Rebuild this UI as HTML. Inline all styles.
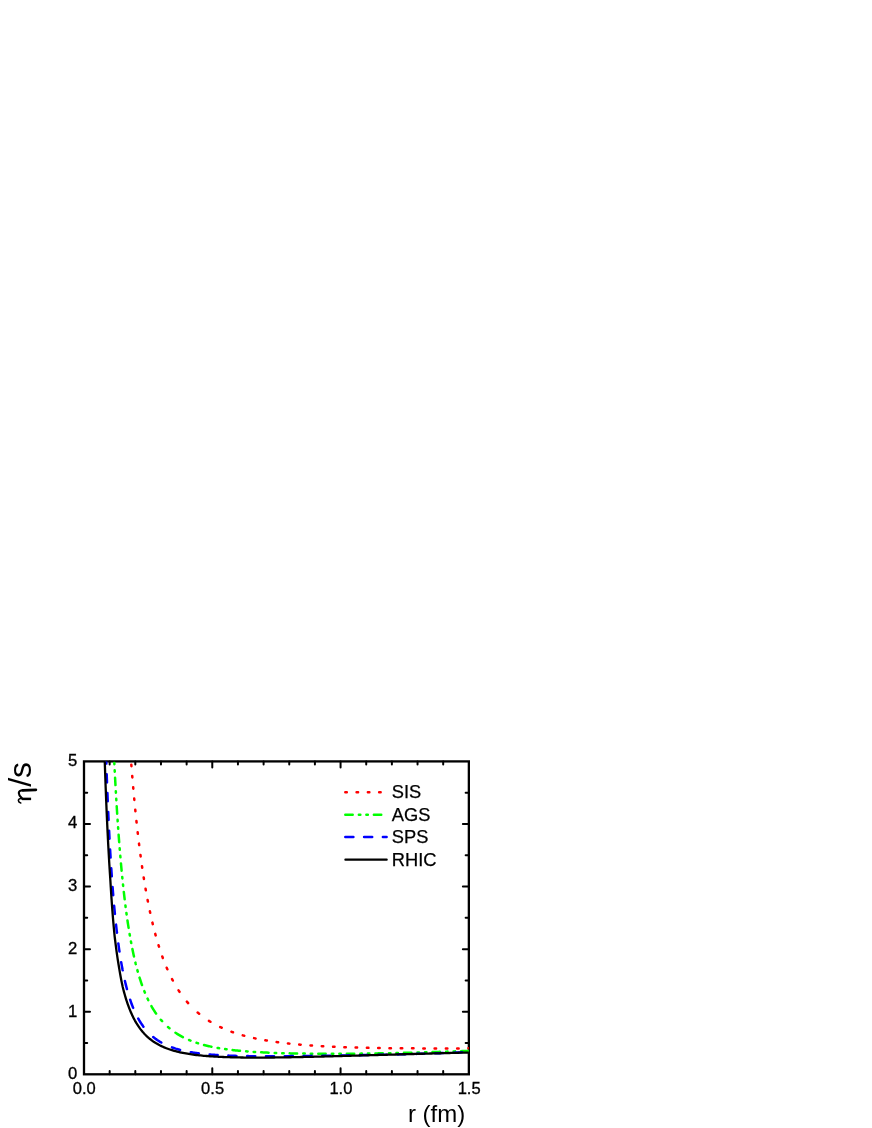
<!DOCTYPE html>
<html><head><meta charset="utf-8"><title>eta/s</title>
<style>
html,body{margin:0;padding:0;background:#fff;}
body{width:872px;height:1128px;overflow:hidden;font-family:"Liberation Sans",sans-serif;}
svg{display:block;position:absolute;left:0;top:0;will-change:transform;}
text{font-family:"Liberation Sans",sans-serif;fill:#000;}
</style></head><body>
<svg width="872" height="1128" viewBox="0 0 872 1128">
<rect x="0" y="0" width="872" height="1128" fill="#fff"/>
<defs><clipPath id="cp"><rect x="84.00" y="761.40" width="384.85" height="312.90"/></clipPath></defs>

<path d="M109.66,1074.3 v-3.2 M109.66,761.4 v3.2 M135.31,1074.3 v-3.2 M135.31,761.4 v3.2 M160.97,1074.3 v-3.2 M160.97,761.4 v3.2 M186.63,1074.3 v-3.2 M186.63,761.4 v3.2 M212.28,1074.3 v-6.0 M212.28,761.4 v6.0 M237.94,1074.3 v-3.2 M237.94,761.4 v3.2 M263.60,1074.3 v-3.2 M263.60,761.4 v3.2 M289.25,1074.3 v-3.2 M289.25,761.4 v3.2 M314.91,1074.3 v-3.2 M314.91,761.4 v3.2 M340.57,1074.3 v-6.0 M340.57,761.4 v6.0 M366.22,1074.3 v-3.2 M366.22,761.4 v3.2 M391.88,1074.3 v-3.2 M391.88,761.4 v3.2 M417.54,1074.3 v-3.2 M417.54,761.4 v3.2 M443.19,1074.3 v-3.2 M443.19,761.4 v3.2 M84.0,1043.01 h3.2 M468.85,1043.01 h-3.2 M84.0,1011.72 h6.0 M468.85,1011.72 h-6.0 M84.0,980.43 h3.2 M468.85,980.43 h-3.2 M84.0,949.14 h6.0 M468.85,949.14 h-6.0 M84.0,917.85 h3.2 M468.85,917.85 h-3.2 M84.0,886.56 h6.0 M468.85,886.56 h-6.0 M84.0,855.27 h3.2 M468.85,855.27 h-3.2 M84.0,823.98 h6.0 M468.85,823.98 h-6.0 M84.0,792.69 h3.2 M468.85,792.69 h-3.2" stroke="#000" stroke-width="2.0" stroke-linecap="round" fill="none"/>
<rect x="84.0" y="761.4" width="384.85" height="312.90" fill="none" stroke="#000" stroke-width="2.3"/>
<g clip-path="url(#cp)" fill="none" stroke-linejoin="round">
<path d="M131.32,764.65 L131.40,765.64 L131.44,766.15 M132.23,775.93 L132.31,776.90 L132.35,777.43 M133.18,787.22 L133.27,788.21 L133.31,788.72 M134.20,798.50 L134.29,799.46 L134.34,800.00 M135.28,809.78 L135.38,810.76 L135.43,811.28 M136.44,821.06 L136.54,822.04 L136.60,822.56 M137.68,832.35 L137.79,833.32 L137.85,833.85 M139.01,843.63 L139.13,844.59 L139.19,845.13 M140.45,854.91 L140.58,855.90 L140.65,856.41 M142.01,866.20 L142.14,867.14 L142.22,867.70 M143.70,877.48 L143.86,878.46 L143.94,878.98 M145.56,888.76 L145.72,889.70 L145.82,890.26 M147.61,900.05 L147.79,901.01 L147.89,901.55 M149.87,911.33 L150.08,912.28 L150.19,912.83 M152.41,922.61 L152.63,923.54 L152.77,924.11 M155.26,933.89 L155.52,934.82 L155.67,935.39 M158.52,945.18 L158.81,946.10 L158.99,946.68 M162.29,956.46 L162.62,957.37 L162.83,957.96 M166.71,967.74 L167.10,968.65 L167.36,969.24 M172.01,979.03 L172.45,979.89 L172.79,980.53 M178.53,990.31 L179.06,991.13 L179.52,991.81 M186.86,1001.59 L187.50,1002.35 L188.15,1003.09 M197.64,1012.51 L198.39,1013.14 L199.14,1013.77 M208.93,1020.85 L209.75,1021.37 L210.43,1021.78 M220.21,1027.05 L221.11,1027.47 L221.71,1027.75 M231.49,1031.74 L232.41,1032.06 L232.99,1032.27 M242.77,1035.34 L243.71,1035.60 L244.27,1035.75 M254.06,1038.14 L255.03,1038.35 L255.56,1038.46 M265.34,1040.34 L266.28,1040.50 L266.84,1040.59 M276.62,1042.08 L277.60,1042.21 L278.12,1042.28 M287.91,1043.46 L288.87,1043.56 L289.41,1043.62 M299.19,1044.56 L300.16,1044.65 L300.69,1044.69 M310.47,1045.45 L311.43,1045.51 L311.97,1045.55 M321.76,1046.16 L322.71,1046.21 L323.26,1046.24 M333.04,1046.72 L334.00,1046.76 L334.54,1046.79 M344.32,1047.17 L345.29,1047.20 L345.82,1047.22 M355.60,1047.53 L356.58,1047.55 L357.10,1047.57 M366.89,1047.80 L367.88,1047.82 L368.39,1047.84 M378.17,1048.02 L379.13,1048.03 L379.67,1048.04 M389.45,1048.18 L390.43,1048.19 L390.95,1048.19 M400.74,1048.29 L401.73,1048.30 L402.24,1048.30 M412.02,1048.37 L412.97,1048.37 L413.52,1048.37 M423.30,1048.41 L424.27,1048.41 L424.80,1048.41 M434.59,1048.43 L435.57,1048.43 L436.09,1048.43 M445.87,1048.42 L446.82,1048.41 L447.37,1048.41 M457.15,1048.39 L458.12,1048.38 L458.65,1048.38 M468.43,1048.34 L468.85,1048.33" stroke="#ff0000" stroke-width="2.5" stroke-linecap="round"/>
<path d="M114.30,762.70 L114.35,763.70 L114.38,764.20 M114.68,770.20 L114.73,771.19 L114.76,771.70 M115.07,777.71 L115.12,778.68 L115.17,779.67 L115.23,780.67 L115.28,781.67 L115.34,782.67 L115.39,783.67 L115.45,784.67 L115.47,785.11 M115.81,791.26 L115.87,792.25 L115.90,792.76 M116.25,798.76 L116.31,799.74 L116.34,800.26 M116.71,806.26 L116.77,807.22 L116.83,808.22 L116.89,809.22 L116.95,810.22 L117.02,811.22 L117.08,812.21 L117.15,813.21 L117.17,813.66 M117.58,819.81 L117.65,820.79 L117.68,821.31 M118.09,827.31 L118.16,828.28 L118.20,828.81 M118.63,834.82 L118.71,835.80 L118.78,836.80 L118.86,837.80 L118.93,838.80 L119.01,839.79 L119.08,840.79 L119.16,841.79 L119.19,842.22 M119.68,848.37 L119.76,849.36 L119.80,849.87 M120.30,855.87 L120.38,856.83 L120.43,857.37 M120.95,863.38 L121.04,864.35 L121.13,865.35 L121.22,866.35 L121.31,867.34 L121.41,868.34 L121.50,869.33 L121.59,870.33 L121.63,870.78 M122.23,876.93 L122.33,877.89 L122.38,878.43 M123.00,884.43 L123.10,885.40 L123.16,885.93 M123.81,891.93 L123.92,892.90 L124.04,893.90 L124.15,894.89 L124.27,895.88 L124.38,896.88 L124.50,897.87 L124.62,898.86 L124.67,899.33 M125.43,905.48 L125.55,906.45 L125.62,906.98 M126.41,912.98 L126.54,913.94 L126.62,914.48 M127.47,920.49 L127.62,921.46 L127.76,922.45 L127.91,923.44 L128.06,924.42 L128.21,925.41 L128.37,926.40 L128.52,927.39 L128.60,927.89 M129.61,934.04 L129.77,934.98 L129.87,935.54 M130.94,941.54 L131.12,942.51 L131.22,943.04 M132.40,949.05 L132.59,950.02 L132.80,950.99 L133.00,951.97 L133.21,952.95 L133.42,953.93 L133.63,954.91 L133.85,955.88 L133.98,956.45 M135.42,962.60 L135.65,963.57 L135.79,964.10 M137.36,970.10 L137.62,971.06 L137.77,971.60 M139.54,977.61 L139.84,978.54 L140.14,979.49 L140.45,980.44 L140.76,981.39 L141.07,982.34 L141.40,983.29 L141.72,984.23 L141.99,985.01 M144.31,991.16 L144.66,992.04 L144.92,992.66 M147.56,998.66 L147.98,999.54 L148.27,1000.16 M151.42,1006.16 L151.91,1007.01 L152.41,1007.87 L152.93,1008.73 L153.45,1009.58 L153.98,1010.43 L154.52,1011.27 L155.07,1012.10 L155.63,1012.93 L156.07,1013.56 M160.80,1019.71 L161.43,1020.44 L162.10,1021.19 L162.12,1021.21 M167.97,1027.02 L168.70,1027.65 L169.47,1028.30 L169.47,1028.30 M175.48,1032.78 L176.31,1033.32 L177.16,1033.86 L178.01,1034.39 L178.86,1034.90 L179.73,1035.40 L180.60,1035.90 L181.47,1036.38 L182.36,1036.85 L182.88,1037.12 M189.03,1039.98 L189.93,1040.35 L190.53,1040.59 M196.53,1042.77 L197.45,1043.07 L198.03,1043.26 M204.04,1044.98 L205.00,1045.23 L205.97,1045.48 L206.94,1045.71 L207.91,1045.94 L208.89,1046.17 L209.86,1046.39 L210.84,1046.60 L211.44,1046.73 M217.59,1047.91 L218.55,1048.08 L219.09,1048.17 M225.09,1049.10 L226.06,1049.24 L226.59,1049.31 M232.59,1050.06 L233.55,1050.17 L234.54,1050.28 L235.54,1050.39 L236.53,1050.49 L237.53,1050.59 L238.52,1050.69 L239.52,1050.79 L239.99,1050.83 M246.14,1051.36 L247.14,1051.44 L247.64,1051.48 M253.64,1051.89 L254.62,1051.95 L255.14,1051.98 M261.15,1052.32 L262.11,1052.37 L263.11,1052.41 L264.11,1052.46 L265.11,1052.51 L266.11,1052.56 L267.11,1052.61 L268.10,1052.65 L268.55,1052.67 M274.70,1052.92 L275.70,1052.95 L276.20,1052.97 M282.20,1053.16 L283.20,1053.19 L283.70,1053.21 M289.71,1053.36 L290.69,1053.38 L291.69,1053.40 L292.69,1053.42 L293.69,1053.44 L294.69,1053.46 L295.69,1053.48 L296.69,1053.50 L297.11,1053.50 M303.26,1053.60 L304.24,1053.61 L304.76,1053.61 M310.76,1053.68 L311.74,1053.69 L312.26,1053.69 M318.27,1053.73 L319.24,1053.74 L320.24,1053.74 L321.24,1053.75 L322.24,1053.75 L323.24,1053.75 L324.24,1053.76 L325.24,1053.76 L325.67,1053.76 M331.82,1053.76 L332.79,1053.76 L333.32,1053.76 M339.32,1053.75 L340.29,1053.75 L340.82,1053.75 M346.82,1053.72 L347.79,1053.72 L348.79,1053.71 L349.79,1053.71 L350.79,1053.70 L351.79,1053.69 L352.79,1053.69 L353.79,1053.68 L354.22,1053.68 M360.37,1053.63 L361.34,1053.62 L361.87,1053.61 M367.87,1053.54 L368.84,1053.53 L369.37,1053.52 M375.38,1053.42 L376.34,1053.40 L377.34,1053.38 L378.34,1053.37 L379.34,1053.35 L380.34,1053.33 L381.34,1053.31 L382.34,1053.29 L382.78,1053.28 M388.93,1053.16 L389.89,1053.14 L390.43,1053.13 M396.43,1053.00 L397.39,1052.98 L397.93,1052.97 M403.94,1052.83 L404.93,1052.81 L405.93,1052.79 L406.93,1052.76 L407.93,1052.74 L408.93,1052.71 L409.93,1052.69 L410.93,1052.66 L411.34,1052.65 M417.49,1052.50 L418.48,1052.47 L418.99,1052.46 M424.99,1052.29 L425.98,1052.27 L426.49,1052.25 M432.49,1052.08 L433.48,1052.05 L434.48,1052.02 L435.48,1051.99 L436.47,1051.96 L437.47,1051.93 L438.47,1051.90 L439.47,1051.87 L439.89,1051.86 M446.04,1051.66 L447.02,1051.63 L447.54,1051.61 M453.54,1051.41 L454.52,1051.38 L455.04,1051.36 M461.05,1051.15 L462.01,1051.12 L463.01,1051.08 L464.01,1051.05 L465.01,1051.01 L466.01,1050.98 L467.01,1050.94 L468.01,1050.90 L468.45,1050.89" stroke="#00ff00" stroke-width="2.5" stroke-linecap="round"/>
<path d="M106.25,761.40 L106.28,762.35 L106.31,763.35 L106.32,763.61 M106.70,774.30 L106.73,775.29 L106.77,776.29 L106.81,777.29 L106.84,778.29 L106.88,779.29 L106.92,780.28 L106.95,781.28 L106.99,782.28 L107.00,782.40 M107.41,793.09 L107.45,794.07 L107.49,795.07 L107.53,796.07 L107.57,797.07 L107.61,798.07 L107.66,799.07 L107.70,800.07 L107.74,801.06 L107.74,801.19 M108.21,811.88 L108.25,812.85 L108.30,813.85 L108.34,814.85 L108.39,815.85 L108.43,816.85 L108.48,817.85 L108.53,818.84 L108.57,819.84 L108.58,819.98 M109.10,830.67 L109.15,831.63 L109.20,832.62 L109.25,833.62 L109.30,834.62 L109.35,835.62 L109.40,836.62 L109.45,837.62 L109.51,838.62 L109.52,838.77 M110.10,849.46 L110.16,850.44 L110.22,851.44 L110.27,852.44 L110.33,853.44 L110.39,854.44 L110.45,855.43 L110.51,856.43 L110.57,857.43 L110.58,857.56 M111.25,868.25 L111.31,869.20 L111.38,870.20 L111.44,871.20 L111.51,872.20 L111.58,873.19 L111.65,874.19 L111.71,875.19 L111.78,876.19 L111.79,876.35 M112.57,887.04 L112.65,888.00 L112.73,889.00 L112.80,889.99 L112.88,890.99 L112.96,891.99 L113.04,892.98 L113.13,893.98 L113.21,894.98 L113.22,895.14 M114.15,905.83 L114.24,906.78 L114.33,907.78 L114.42,908.77 L114.52,909.77 L114.61,910.76 L114.71,911.76 L114.80,912.75 L114.90,913.75 L114.92,913.93 M116.03,924.62 L116.14,925.58 L116.25,926.57 L116.36,927.57 L116.47,928.56 L116.59,929.55 L116.70,930.55 L116.82,931.54 L116.93,932.53 L116.96,932.72 M118.32,943.41 L118.45,944.38 L118.58,945.37 L118.72,946.36 L118.86,947.35 L119.00,948.34 L119.15,949.33 L119.29,950.32 L119.44,951.31 L119.47,951.51 M121.18,962.20 L121.35,963.15 L121.52,964.14 L121.70,965.12 L121.88,966.11 L122.06,967.09 L122.24,968.07 L122.43,969.05 L122.61,970.03 L122.67,970.30 M124.93,980.99 L125.16,981.96 L125.39,982.93 L125.63,983.90 L125.87,984.88 L126.11,985.85 L126.36,986.81 L126.61,987.78 L126.86,988.75 L126.95,989.09 M130.16,999.78 L130.48,1000.71 L130.80,1001.65 L131.14,1002.59 L131.48,1003.53 L131.83,1004.47 L132.18,1005.40 L132.54,1006.34 L132.91,1007.26 L133.16,1007.88 M138.24,1018.57 L138.73,1019.43 L139.23,1020.29 L139.74,1021.15 L140.26,1022.00 L140.80,1022.85 L141.34,1023.68 L141.90,1024.51 L142.47,1025.33 L143.05,1026.15 L143.44,1026.67 M153.20,1036.99 L153.94,1037.59 L154.73,1038.20 L155.53,1038.80 L156.34,1039.38 L157.16,1039.96 L157.99,1040.51 L158.83,1041.05 L159.68,1041.58 L160.54,1042.09 L161.30,1042.53 M171.99,1047.39 L172.90,1047.71 L173.85,1048.03 L174.80,1048.34 L175.75,1048.65 L176.71,1048.94 L177.67,1049.22 L178.63,1049.49 L179.59,1049.75 L180.09,1049.88 M190.78,1052.16 L191.72,1052.32 L192.71,1052.49 L193.69,1052.64 L194.68,1052.79 L195.67,1052.94 L196.66,1053.08 L197.65,1053.21 L198.64,1053.34 L198.88,1053.37 M209.57,1054.49 L210.53,1054.57 L211.53,1054.65 L212.52,1054.73 L213.52,1054.80 L214.52,1054.87 L215.52,1054.94 L216.51,1055.01 L217.51,1055.07 L217.67,1055.08 M228.36,1055.62 L229.35,1055.65 L230.35,1055.69 L231.35,1055.73 L232.35,1055.76 L233.34,1055.79 L234.34,1055.82 L235.34,1055.85 L236.34,1055.88 L236.46,1055.88 M247.15,1056.10 L248.14,1056.12 L249.14,1056.13 L250.14,1056.15 L251.14,1056.16 L252.14,1056.17 L253.14,1056.18 L254.14,1056.19 L255.14,1056.19 L255.25,1056.20 M265.94,1056.24 L266.89,1056.24 L267.89,1056.24 L268.89,1056.24 L269.89,1056.24 L270.89,1056.24 L271.89,1056.23 L272.89,1056.23 L273.89,1056.23 L274.04,1056.23 M284.73,1056.17 L285.69,1056.16 L286.69,1056.15 L287.69,1056.14 L288.69,1056.14 L289.69,1056.13 L290.69,1056.12 L291.69,1056.11 L292.69,1056.10 L292.83,1056.10 M303.52,1055.97 L304.49,1055.96 L305.49,1055.95 L306.49,1055.94 L307.49,1055.92 L308.49,1055.91 L309.49,1055.89 L310.49,1055.88 L311.49,1055.87 L311.62,1055.86 M322.31,1055.73 L323.29,1055.72 L324.29,1055.71 L325.29,1055.69 L326.29,1055.68 L327.29,1055.67 L328.29,1055.65 L329.29,1055.64 L330.29,1055.63 L330.41,1055.63 M341.10,1055.47 L342.08,1055.46 L343.08,1055.44 L344.08,1055.43 L345.08,1055.41 L346.08,1055.40 L347.08,1055.38 L348.08,1055.37 L349.08,1055.35 L349.20,1055.35 M359.89,1055.17 L360.88,1055.16 L361.88,1055.14 L362.88,1055.12 L363.88,1055.10 L364.88,1055.09 L365.88,1055.07 L366.88,1055.05 L367.88,1055.03 L367.99,1055.03 M378.68,1054.83 L379.68,1054.81 L380.68,1054.79 L381.68,1054.77 L382.67,1054.75 L383.67,1054.73 L384.67,1054.71 L385.67,1054.69 L386.67,1054.67 L386.78,1054.67 M397.47,1054.42 L398.42,1054.39 L399.42,1054.36 L400.42,1054.34 L401.42,1054.31 L402.42,1054.28 L403.42,1054.26 L404.42,1054.23 L405.42,1054.20 L405.57,1054.20 M416.26,1053.90 L417.21,1053.87 L418.21,1053.84 L419.21,1053.81 L420.21,1053.78 L421.21,1053.75 L422.21,1053.72 L423.21,1053.69 L424.21,1053.66 L424.36,1053.66 M435.05,1053.32 L436.00,1053.29 L437.00,1053.25 L438.00,1053.22 L439.00,1053.19 L440.00,1053.15 L441.00,1053.12 L442.00,1053.08 L443.00,1053.05 L443.15,1053.05 M453.84,1052.66 L454.79,1052.63 L455.79,1052.59 L456.79,1052.55 L457.79,1052.52 L458.79,1052.48 L459.79,1052.44 L460.79,1052.40 L461.79,1052.36 L461.94,1052.36" stroke="#0000ff" stroke-width="2.5" stroke-linecap="round"/>
<path d="M104.76,761.40 L104.81,762.90 L104.86,764.40 L104.91,765.90 L104.96,767.40 L105.01,768.90 L105.06,770.39 L105.11,771.89 L105.16,773.39 L105.22,774.89 L105.27,776.39 L105.32,777.89 L105.38,779.39 L105.43,780.89 L105.49,782.39 L105.54,783.88 L105.60,785.38 L105.65,786.88 L105.71,788.38 L105.77,789.88 L105.83,791.38 L105.88,792.88 L105.94,794.38 L106.00,795.87 L106.06,797.37 L106.12,798.87 L106.18,800.37 L106.24,801.87 L106.30,803.37 L106.36,804.87 L106.43,806.36 L106.49,807.86 L106.55,809.36 L106.62,810.86 L106.68,812.36 L106.75,813.86 L106.81,815.36 L106.88,816.85 L106.95,818.35 L107.01,819.85 L107.08,821.35 L107.15,822.85 L107.22,824.34 L107.29,825.84 L107.36,827.34 L107.43,828.84 L107.50,830.34 L107.57,831.84 L107.65,833.33 L107.72,834.83 L107.80,836.33 L107.87,837.83 L107.95,839.33 L108.02,840.82 L108.10,842.32 L108.18,843.82 L108.26,845.32 L108.34,846.81 L108.42,848.31 L108.50,849.81 L108.58,851.31 L108.67,852.80 L108.75,854.30 L108.84,855.80 L108.92,857.30 L109.01,858.79 L109.10,860.29 L109.18,861.79 L109.27,863.29 L109.36,864.78 L109.46,866.28 L109.55,867.78 L109.64,869.27 L109.74,870.77 L109.83,872.27 L109.93,873.76 L110.03,875.26 L110.13,876.76 L110.23,878.25 L110.33,879.75 L110.42,881.25 L110.51,882.74 L110.59,884.24 L110.68,885.73 L110.77,887.23 L110.87,888.73 L110.96,890.22 L111.06,891.72 L111.15,893.21 L111.25,894.71 L111.35,896.20 L111.45,897.70 L111.55,899.19 L111.66,900.69 L111.76,902.18 L111.87,903.68 L111.98,905.17 L112.09,906.67 L112.20,908.16 L112.31,909.65 L112.43,911.15 L112.54,912.64 L112.66,914.14 L112.78,915.63 L112.90,917.12 L113.02,918.62 L113.15,920.11 L113.27,921.60 L113.40,923.09 L113.54,924.58 L113.67,926.08 L113.81,927.57 L113.95,929.06 L114.09,930.55 L114.23,932.04 L114.38,933.53 L114.53,935.02 L114.68,936.51 L114.85,938.00 L115.03,939.49 L115.21,940.98 L115.39,942.47 L115.58,943.96 L115.77,945.44 L115.96,946.93 L116.16,948.42 L116.36,949.90 L116.56,951.39 L116.77,952.87 L116.98,954.36 L117.20,955.84 L117.42,957.32 L117.64,958.81 L117.87,960.29 L118.11,961.77 L118.35,963.25 L118.59,964.73 L118.84,966.21 L119.09,967.69 L119.33,969.16 L119.57,970.64 L119.82,972.11 L120.08,973.59 L120.34,975.06 L120.60,976.53 L120.88,978.00 L121.16,979.47 L121.45,980.94 L121.74,982.40 L122.05,983.86 L122.36,985.32 L122.68,986.78 L123.04,988.24 L123.41,989.70 L123.79,991.15 L124.18,992.60 L124.58,994.04 L124.99,995.49 L125.41,996.93 L125.84,998.37 L126.29,999.80 L126.75,1001.23 L127.22,1002.65 L127.71,1004.07 L128.21,1005.49 L128.73,1006.90 L129.27,1008.30 L129.82,1009.69 L130.38,1011.08 L130.97,1012.47 L131.58,1013.84 L132.20,1015.20 L132.85,1016.56 L133.52,1017.90 L134.21,1019.24 L134.92,1020.56 L135.66,1021.86 L136.42,1023.16 L137.21,1024.43 L138.03,1025.69 L138.87,1026.93 L139.74,1028.16 L140.64,1029.36 L141.57,1030.54 L142.53,1031.70 L143.52,1032.83 L144.53,1033.93 L145.58,1035.01 L146.65,1036.06 L147.76,1037.08 L148.89,1038.07 L150.04,1039.02 L151.23,1039.95 L152.44,1040.84 L153.67,1041.70 L154.92,1042.52 L156.20,1043.31 L157.50,1044.07 L158.81,1044.80 L160.14,1045.49 L161.49,1046.15 L162.86,1046.78 L164.23,1047.38 L165.62,1047.95 L167.02,1048.49 L168.43,1049.01 L169.85,1049.50 L171.28,1049.96 L172.71,1050.40 L174.15,1050.82 L175.60,1051.22 L177.05,1051.59 L178.51,1051.95 L179.98,1052.29 L181.44,1052.61 L182.91,1052.91 L184.39,1053.19 L185.86,1053.47 L187.34,1053.72 L188.82,1053.96 L190.30,1054.19 L191.79,1054.41 L193.28,1054.62 L194.76,1054.81 L196.25,1054.99 L197.74,1055.17 L199.24,1055.33 L200.73,1055.48 L202.22,1055.63 L203.72,1055.77 L205.21,1055.89 L206.71,1056.02 L208.20,1056.13 L209.70,1056.24 L211.20,1056.34 L212.69,1056.44 L214.19,1056.53 L215.69,1056.62 L217.19,1056.71 L218.68,1056.78 L220.18,1056.86 L221.68,1056.93 L223.18,1056.99 L224.68,1057.05 L226.18,1057.11 L227.68,1057.16 L229.18,1057.21 L230.68,1057.26 L232.18,1057.30 L233.68,1057.34 L235.18,1057.37 L236.68,1057.40 L238.18,1057.43 L239.68,1057.46 L241.18,1057.48 L242.68,1057.51 L244.18,1057.53 L245.68,1057.54 L247.18,1057.56 L248.68,1057.57 L250.18,1057.58 L251.68,1057.59 L253.18,1057.59 L254.68,1057.60 L256.18,1057.60 L257.68,1057.60 L259.18,1057.60 L260.68,1057.60 L262.18,1057.59 L263.68,1057.59 L265.18,1057.58 L266.68,1057.57 L268.18,1057.55 L269.68,1057.54 L271.18,1057.52 L272.68,1057.51 L274.18,1057.49 L275.68,1057.47 L277.18,1057.45 L278.67,1057.43 L280.17,1057.41 L281.67,1057.39 L283.17,1057.36 L284.67,1057.34 L286.17,1057.31 L287.67,1057.29 L289.17,1057.26 L290.67,1057.23 L292.17,1057.20 L293.67,1057.18 L295.17,1057.15 L296.67,1057.12 L298.17,1057.08 L299.67,1057.05 L301.17,1057.02 L302.67,1056.99 L304.17,1056.96 L305.67,1056.92 L307.17,1056.89 L308.67,1056.85 L310.17,1056.82 L311.67,1056.78 L313.16,1056.75 L314.66,1056.71 L316.16,1056.67 L317.66,1056.64 L319.16,1056.60 L320.66,1056.56 L322.16,1056.52 L323.66,1056.49 L325.16,1056.45 L326.66,1056.41 L328.16,1056.37 L329.66,1056.33 L331.16,1056.29 L332.66,1056.25 L334.16,1056.21 L335.65,1056.17 L337.15,1056.13 L338.65,1056.09 L340.15,1056.05 L341.65,1056.00 L343.15,1055.96 L344.65,1055.92 L346.15,1055.88 L347.65,1055.84 L349.15,1055.80 L350.65,1055.75 L352.15,1055.71 L353.65,1055.67 L355.14,1055.63 L356.64,1055.58 L358.14,1055.54 L359.64,1055.50 L361.14,1055.45 L362.64,1055.41 L364.14,1055.37 L365.64,1055.33 L367.14,1055.28 L368.64,1055.24 L370.14,1055.20 L371.64,1055.16 L373.13,1055.12 L374.63,1055.07 L376.13,1055.03 L377.63,1054.99 L379.13,1054.95 L380.63,1054.90 L382.13,1054.86 L383.63,1054.82 L385.13,1054.78 L386.63,1054.74 L388.13,1054.69 L389.62,1054.65 L391.12,1054.61 L392.62,1054.57 L394.12,1054.53 L395.62,1054.48 L397.12,1054.44 L398.62,1054.40 L400.12,1054.36 L401.62,1054.31 L403.12,1054.27 L404.62,1054.23 L406.12,1054.19 L407.61,1054.15 L409.11,1054.10 L410.61,1054.06 L412.11,1054.02 L413.61,1053.98 L415.11,1053.94 L416.61,1053.90 L418.11,1053.85 L419.61,1053.81 L421.11,1053.77 L422.61,1053.73 L424.11,1053.69 L425.60,1053.65 L427.10,1053.61 L428.60,1053.56 L430.10,1053.52 L431.60,1053.48 L433.10,1053.44 L434.60,1053.40 L436.10,1053.36 L437.60,1053.32 L439.10,1053.28 L440.60,1053.24 L442.10,1053.20 L443.60,1053.16 L445.09,1053.12 L446.59,1053.08 L448.09,1053.04 L449.59,1053.00 L451.09,1052.96 L452.59,1052.92 L454.09,1052.88 L455.59,1052.84 L457.09,1052.80 L458.59,1052.76 L460.09,1052.72 L461.59,1052.68 L463.09,1052.64 L464.58,1052.60 L466.08,1052.56 L467.58,1052.53 L468.78,1052.49" stroke="#000" stroke-width="2.3"/>
</g>
<g font-size="15.75px" stroke="#000" stroke-width="0.3">
<text transform="translate(84.30,1093.8) scale(1.05,1)" text-anchor="middle">0.0</text>
<text transform="translate(212.58,1093.8) scale(1.05,1)" text-anchor="middle">0.5</text>
<text transform="translate(340.87,1093.8) scale(1.05,1)" text-anchor="middle">1.0</text>
<text transform="translate(469.15,1093.8) scale(1.05,1)" text-anchor="middle">1.5</text>
<text transform="translate(77.35,1079.35) scale(1.06,1)" text-anchor="end">0</text>
<text transform="translate(77.35,1016.57) scale(1.06,1)" text-anchor="end">1</text>
<text transform="translate(77.35,954.39) scale(1.06,1)" text-anchor="end">2</text>
<text transform="translate(77.35,891.31) scale(1.06,1)" text-anchor="end">3</text>
<text transform="translate(77.35,828.43) scale(1.06,1)" text-anchor="end">4</text>
<text transform="translate(77.35,765.55) scale(1.06,1)" text-anchor="end">5</text>
</g>
<text x="407.95" y="1121.5" font-size="24px">r (fm)</text>
<g fill="none" stroke="#000" stroke-linecap="round" stroke-linejoin="round">
<path d="M35.9,789.85 L22.8,790.3" stroke-width="2.7"/>
<path d="M23.2,790.3 C20.2,790.4 18.8,791.3 18.8,793.0 C18.8,795.1 20.2,796.9 22.0,798.4" stroke-width="2.1"/>
<path d="M31.1,798.9 L21.8,798.9" stroke-width="2.5" stroke-linecap="butt"/>
<path d="M21.8,798.5 C19.8,798.3 18.4,799.0 18.4,800.6 C18.4,801.8 19.3,802.6 20.7,802.95" stroke-width="1.6"/>
</g>
<text transform="translate(31.1,786.8) rotate(-90)" font-size="32px">/s</text>
<g fill="none" stroke-width="2.5">
<path d="M345.3,792.15 H386.6" stroke="#ff0000" stroke-linecap="round" stroke-dasharray="1.5 9.783"/>
<path d="M345.3,814.65 H386.6" stroke="#00ff00" stroke-linecap="round" stroke-dasharray="7.4 6.15 1.5 6.0 1.5 6.007"/>
<path d="M345.3,837.1 H386.6" stroke="#0000ff" stroke-linecap="round" stroke-dasharray="8.1 10.69"/>
<path d="M345.4,859.65 H386.7" stroke="#000" stroke-width="2.2" stroke-linecap="round"/>
</g>
<g font-size="18.3px" stroke="#000" stroke-width="0.25">
<text x="391.8" y="798.1">SIS</text>
<text x="391.8" y="820.6">AGS</text>
<text x="391.8" y="843.1">SPS</text>
<text x="391.8" y="865.6">RHIC</text>
</g>
</svg></body></html>
